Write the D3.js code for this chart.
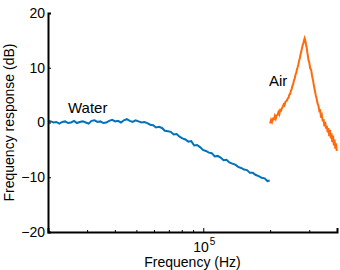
<!DOCTYPE html>
<html>
<head>
<meta charset="utf-8">
<script src="https://cdn.jsdelivr.net/npm/d3@7"></script>
<style>
  body { margin: 0; background: #fff; }
  text { font-family: "Liberation Sans", Arial, sans-serif; fill: #000; }
</style>
</head>
<body>
<svg id="chart" width="340" height="270"></svg>
<script>
// water response, frequency in kHz and response in dB
const waterFreq = [20,20.6,21.2,21.8,22.5,23.2,23.9,24.6,25.4,26.2,27,27.8,28.7,29.6,30.5,31.4,32.4,33.4,34.4,35.5,36.6,37.7,38.9,40.1,41.3,42.6,43.9,45.3,46.7,48.1,49.6,51.1,52.7,54.3,56,57.7,59.5,61.3,63.2,65.2,67.2,69.3,71.4,73.6,75.9,78.2,80.6,83.1,85.7,88.3,91,93.8,96.7,99.7,102.8,106,109.2,112.6,116.1,119.7,123.4,127.2,131.1,135.1,139.3,143.6,148,152.6,157.3,162.2,167.2,172.4,177.7,183.2,188.8,194.6,199]
const waterDb = [0.3,0.2,0.0,0.1,-0.2,0.1,0.2,-0.1,0.0,0.3,-0.1,0.1,0.2,0.0,-0.2,0.3,0.4,0.1,0.2,-0.1,0.0,0.3,0.5,0.2,0.3,0.0,0.4,0.6,0.3,0.1,0.4,0.2,0.0,0.1,-0.1,-0.4,-0.5,-0.9,-0.8,-1.0,-1.5,-1.6,-1.7,-2.2,-2.1,-2.6,-2.9,-3.1,-3.5,-3.4,-4.2,-4.1,-4.5,-5.0,-5.2,-5.5,-5.6,-6.2,-6.1,-6.4,-6.9,-6.8,-7.3,-7.5,-7.7,-8.1,-8.3,-8.6,-8.7,-9.2,-9.2,-9.6,-9.8,-10.1,-10.2,-10.7,-10.6]

// air response
const airFreq = [200,202,204,206,208,210,212,214,216,218,220,222,224,226,228,230,232,234,236,238,240,242,244,246,248,250,252,254,256,258,260,262,264,266,268,270,272,274,276,278,280,282,284,286,288,290,292,294,296,298,300,303,306,309,312,315,318,321,324,327,330,333,336,339,342,345,348,351,354,357,360,363,366,369,372,375,378,381,384,387,390,393,396,399]
const airDb = [-0.2,0.5,0.1,0.7,0.6,1.2,0.7,1.3,1.4,1.9,1.5,2.3,2.2,2.6,2.9,3.3,3.1,3.7,3.9,4.0,4.4,4.5,5.1,5.2,5.8,6.1,6.7,7.0,7.7,8.0,8.7,9.0,9.7,10.1,10.6,11.3,11.7,12.4,12.9,13.5,14.1,14.4,15.0,15.4,15.0,14.3,13.7,12.8,12.1,11.3,11.0,9.9,9.6,8.5,7.7,6.7,5.8,5.0,4.3,3.5,3.1,2.1,2.2,0.9,1.3,0.2,0.6,-0.7,0.1,-1.1,-0.6,-1.8,-1.0,-2.5,-1.4,-2.9,-2.0,-3.6,-2.4,-4.2,-3.1,-4.8,-3.8,-5.2]

const yTicks = [-20, -10, 0, 10, 20]
const xMinorTicks = [2e4,3e4,4e4,5e4,6e4,7e4,8e4,9e4,2e5,3e5,4e5]
const xMajorTicks = [1e5]

const margin = {left: 48, right: 3, top: 13, bottom: 38}
const width = 340, height = 270

const svg = d3.select('#chart')

const x = d3.scaleLog().domain([2e4, 4e5]).range([margin.left, width - margin.right])
const y = d3.scaleLinear().domain([-20, 20]).range([height - margin.bottom, margin.top])

const line = d3.line()
  .x(d => x(d[0] * 1000))
  .y(d => y(d[1]))

svg.append('path')
  .datum(d3.zip(waterFreq, waterDb))
  .attr('d', line)
  .attr('fill', 'none')
  .attr('stroke', '#0072bd')
  .attr('stroke-width', 2)

svg.append('path')
  .datum(d3.zip(airFreq, airDb))
  .attr('d', line)
  .attr('fill', 'none')
  .attr('stroke', '#ff6a0d')
  .attr('stroke-width', 2)

// axes, ticks point inward
const xMinor = svg.append('g')
  .attr('transform', `translate(0,${y(-20)})`)
  .call(d3.axisBottom(x).tickValues(xMinorTicks).tickSize(-2).tickFormat(''))
xMinor.select('.domain').remove()

const xMajor = svg.append('g')
  .attr('transform', `translate(0,${y(-20)})`)
  .call(d3.axisBottom(x).tickValues(xMajorTicks).tickSize(-4).tickFormat(''))
xMajor.select('.domain').attr('stroke-width', 2)

const lbl = svg.append('text')
  .attr('x', x(1e5) - 10)
  .attr('y', y(-20) + 20)
  .attr('font-size', 14)
lbl.append('tspan').text('10')
lbl.append('tspan').attr('dx', 1).attr('dy', -7).attr('font-size', 10).text('5')

const yAxis = svg.append('g')
  .attr('transform', `translate(${x(2e4)},0)`)
  .call(d3.axisLeft(y).tickValues(yTicks).tickSize(-3).tickPadding(3).tickFormat(d3.format('')))
yAxis.select('.domain').attr('stroke-width', 2)
yAxis.selectAll('text').attr('font-size', 14).attr('font-family', '"Liberation Sans", Arial, sans-serif')

// labels
svg.append('text')
  .attr('x', (x.range()[0] + x.range()[1]) / 2)
  .attr('y', 267)
  .attr('text-anchor', 'middle')
  .attr('font-size', 14)
  .text('Frequency (Hz)')

svg.append('text')
  .attr('transform', `translate(14,${(y(20) + y(-20)) / 2}) rotate(-90)`)
  .attr('text-anchor', 'middle')
  .attr('font-size', 14)
  .text('Frequency response (dB)')

svg.append('text')
  .attr('x', 68)
  .attr('y', 113)
  .attr('font-size', 15)
  .text('Water')

svg.append('text')
  .attr('x', 269)
  .attr('y', 86)
  .attr('font-size', 15)
  .text('Air')
</script>
</body>
</html>
